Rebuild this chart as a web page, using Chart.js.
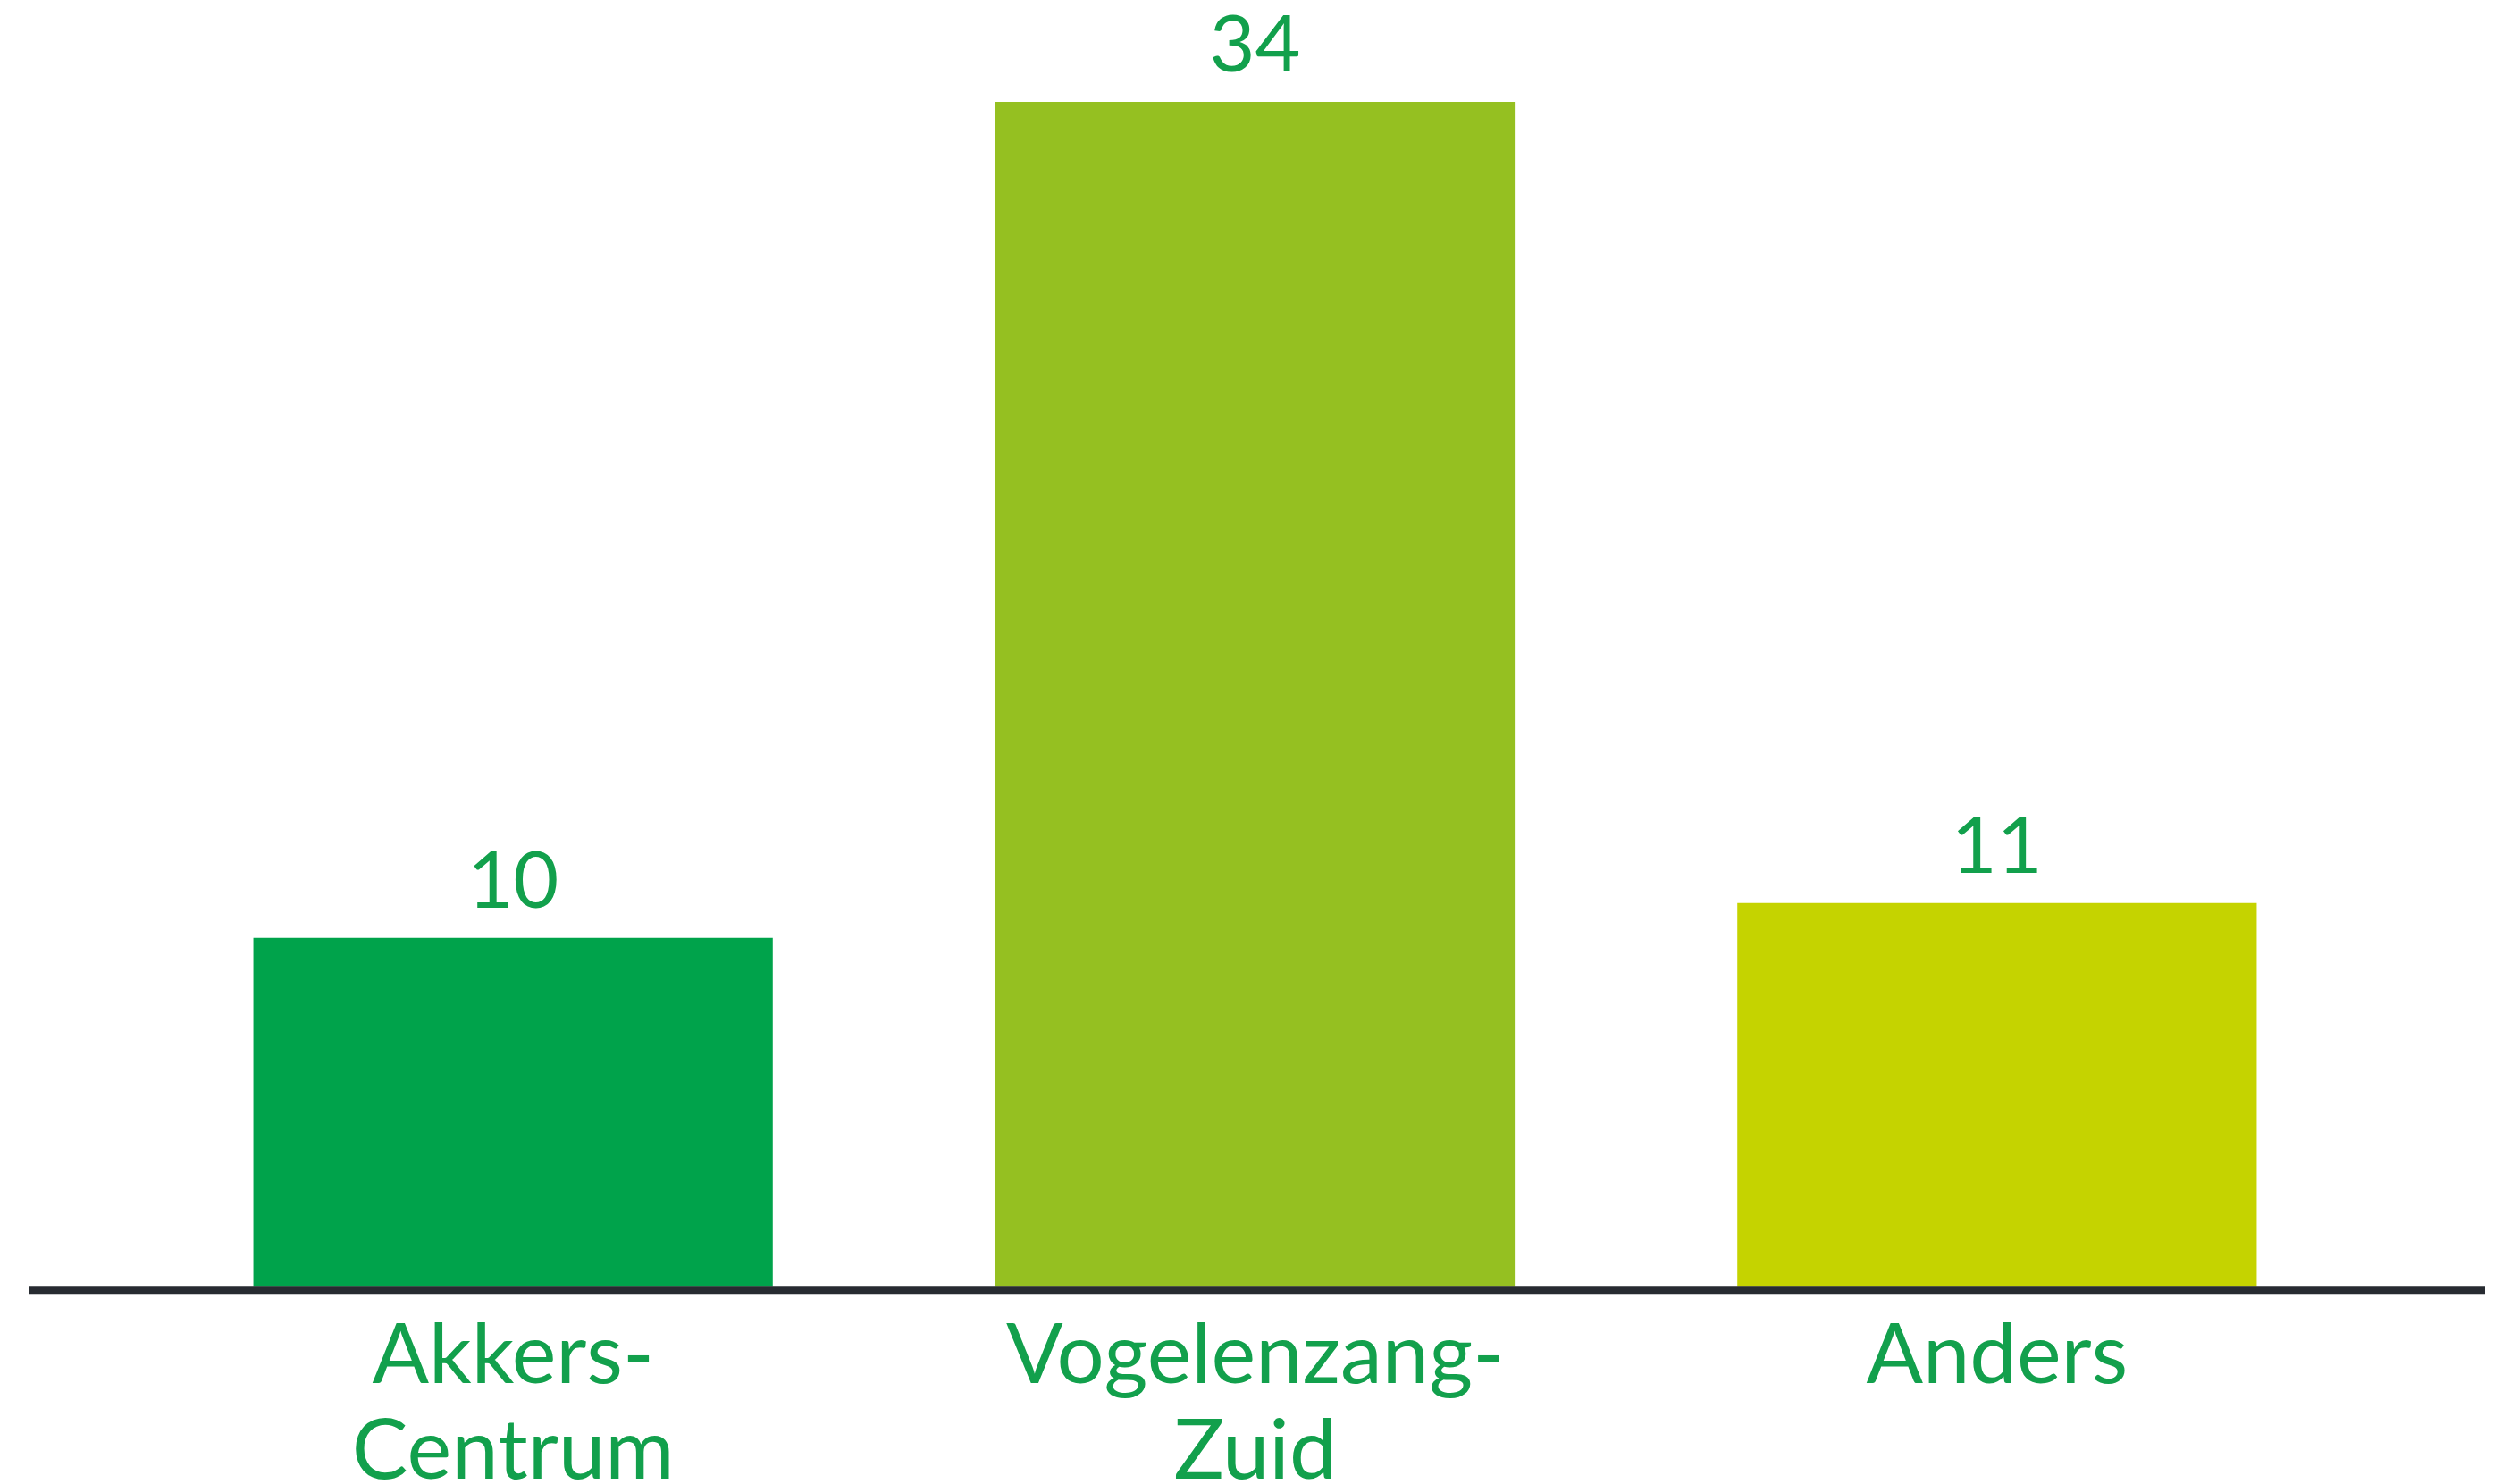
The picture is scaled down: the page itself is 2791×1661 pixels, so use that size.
<!DOCTYPE html>
<html>
<head>
<meta charset="utf-8">
<script src="https://cdn.jsdelivr.net/npm/chart.js@4"></script>
<style>
  html, body { margin: 0; padding: 0; background: #fff; }
  #wrap { width: 2791px; height: 1661px; }
</style>
</head>
<body>
<div id="wrap"><canvas id="barChart"></canvas></div>
<script>
// chart data
const categories = [['Akkers-', 'Centrum'], ['Vogelenzang-', 'Zuid'], 'Anders'];
const counts = [10, 34, 11];
const barColors = ['#00a34b', '#95c021', '#c5d300'];

const textGreen = '#12a04c';

// value labels above each bar
const valueLabels = {
    id: 'valueLabels',
    afterDatasetsDraw(chart) {
        const ctx = chart.ctx;
        const meta = chart.getDatasetMeta(0);
        ctx.save();
        ctx.fillStyle = textGreen;
        ctx.font = '88px Lato';
        ctx.textAlign = 'center';
        ctx.textBaseline = 'alphabetic';
        meta.data.forEach(function(bar, i) {
            ctx.fillText(String(counts[i]), bar.x, bar.y - 34);
        });
        ctx.restore();
    }
};

// long dark baseline running past the chart area
const baseLine = {
    id: 'baseLine',
    afterDatasetsDraw(chart) {
        const ctx = chart.ctx;
        const y = chart.scales.y.getPixelForValue(0) + 4;
        ctx.save();
        ctx.strokeStyle = '#272b31';
        ctx.lineWidth = 9;
        ctx.beginPath();
        ctx.moveTo(32, y);
        ctx.lineTo(2781, y);
        ctx.stroke();
        ctx.restore();
    }
};

const ctx = document.getElementById('barChart').getContext('2d');
new Chart(ctx, {
    type: 'bar',
    data: {
        labels: categories,
        datasets: [{
            data: counts,
            backgroundColor: barColors,
            borderWidth: 0,
            categoryPercentage: 1,
            barPercentage: 0.7
        }]
    },
    options: {
        responsive: true,
        maintainAspectRatio: false,
        animation: false,
        layout: {
            padding: { left: 159, right: 141, top: 36, bottom: 0 }
        },
        scales: {
            x: {
                grid: { display: false, drawTicks: false },
                border: { display: false },
                afterFit(scale) {
                    scale.height -= 41;
                },
                ticks: {
                    color: textGreen,
                    padding: 24,
                    maxRotation: 0,
                    font: { family: 'Lato', size: 94, lineHeight: 1.14 }
                }
            },
            y: {
                display: false,
                min: 0,
                max: 36
            }
        },
        plugins: {
            legend: { display: false },
            tooltip: { enabled: false }
        }
    },
    plugins: [valueLabels, baseLine]
});
</script>
</body>
</html>
